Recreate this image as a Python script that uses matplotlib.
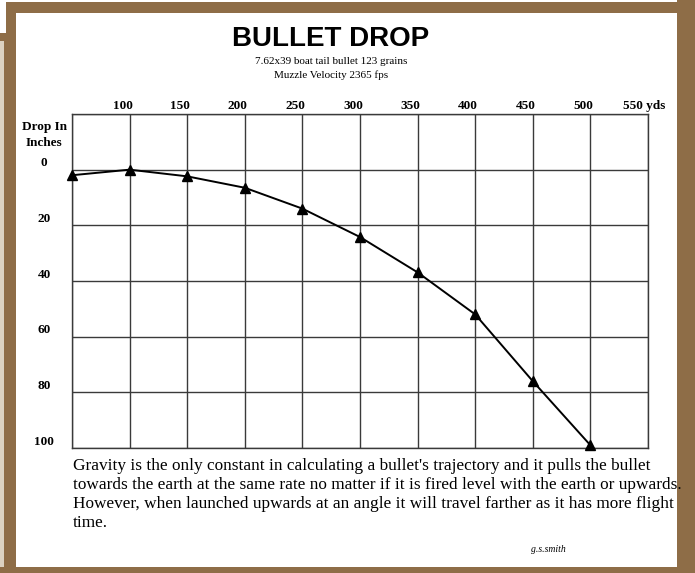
import matplotlib
matplotlib.use("Agg")
import matplotlib.pyplot as plt
from matplotlib.patches import Rectangle

# range in yards and drop in inches
yards = [50, 100, 150, 200, 250, 300, 350, 400, 450, 500]
drop = [2, 0, 2.4, 6.5, 14, 24.2, 36.9, 52, 76, 99]

x_labels = [100, 150, 200, 250, 300, 350, 400, 450, 500]
y_labels = [0, 20, 40, 60, 80, 100]

title = "BULLET DROP"
subtitle = ["7.62x39 boat tail bullet 123 grains", "Muzzle Velocity 2365 fps"]
note = ["Gravity is the only constant in calculating a bullet's trajectory and it pulls the bullet",
        "towards the earth at the same rate no matter if it is fired level with the earth or upwards.",
        "However, when launched upwards at an angle it will travel farther as it has more flight",
        "time."]

W, H = 695, 573
serif = "Liberation Serif"
brown = "#8E6D47"
beige = "#DCD2C1"

fig = plt.figure(figsize=(W / 100, H / 100), dpi=100)
fig.patch.set_facecolor("white")


def px_rect(x0, y0, x1, y1, color):
    # rectangle given in image pixels (top-left origin)
    fig.patches.append(Rectangle((x0 / W, 1 - y1 / H), (x1 - x0) / W, (y1 - y0) / H,
                                 transform=fig.transFigure, color=color, lw=0, zorder=-5))


# picture frame
px_rect(6, 2, W, 13, brown)
px_rect(677, 0, W, H, brown)
px_rect(0, 567, W, H, brown)
px_rect(6, 2, 16, 33, brown)
px_rect(0, 33, 16, 41, brown)
px_rect(0, 41, 4, 567, beige)
px_rect(4, 41, 16, 567, brown)

ax = fig.add_axes([72 / W, 1 - 448 / H, (648 - 72) / W, (448 - 114) / H])
ax.set_xlim(50, 550)
ax.set_ylim(100, -20)
ax.set_xticks(range(50, 551, 50))
ax.set_yticks(range(-20, 101, 20))
ax.tick_params(length=0, labelbottom=False, labelleft=False)
ax.grid(True, color="#3a3a3a", lw=1.0)
for s in ax.spines.values():
    s.set_color("#3a3a3a")
    s.set_linewidth(1.0)

ax.plot(yards, drop, color="black", lw=1.4, marker="^", ms=7.5, clip_on=False, zorder=3)

for v in x_labels:
    ax.annotate(str(v), (v, 1), xycoords=("data", "axes fraction"), xytext=(-5, 3.5),
                textcoords="offset points", ha="center", va="baseline",
                fontsize=9.5, family=serif, fontweight="bold")
ax.annotate("550 yds", (550, 1), xycoords=("data", "axes fraction"), xytext=(-18, 3.5),
            textcoords="offset points", ha="left", va="baseline",
            fontsize=9.5, family=serif, fontweight="bold")

for v in y_labels:
    ax.annotate(str(v), (0, v), xycoords=("axes fraction", "data"), xytext=(-20, 2.5),
                textcoords="offset points", ha="center", va="baseline",
                fontsize=9.5, family=serif, fontweight="bold")

fig.text(44 / W, 1 - 127 / H, "Drop In", ha="center", va="center",
         fontsize=9.5, family=serif, fontweight="bold")
fig.text(44 / W, 1 - 143 / H, "Inches", ha="center", va="center",
         fontsize=9.5, family=serif, fontweight="bold")

fig.text(331 / W, 1 - 39 / H, title, ha="center", va="center",
         fontsize=20, family="Liberation Sans", fontweight="bold")
fig.text(331 / W, 1 - 61 / H, subtitle[0], ha="center", va="center", fontsize=8, family=serif)
fig.text(331 / W, 1 - 75 / H, subtitle[1], ha="center", va="center", fontsize=8, family=serif)

for i, line in enumerate(note):
    fig.text(73 / W, 1 - (466 + 19 * i) / H, line, ha="left", va="center",
             fontsize=12.4, family=serif)

fig.text(548 / W, 1 - 549 / H, "g.s.smith", ha="center", va="center",
         fontsize=7, family=serif, style="italic")

fig.savefig("out.png", dpi=100)
